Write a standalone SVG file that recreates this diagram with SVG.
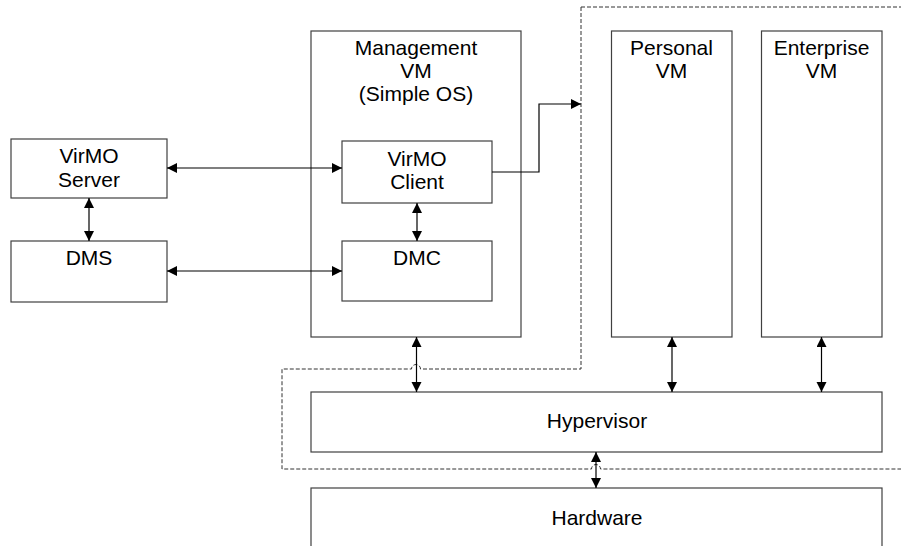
<svg xmlns="http://www.w3.org/2000/svg" width="901" height="546" viewBox="0 0 901 546">
<style>
.box{fill:#fff;stroke:#404040;stroke-width:1.2}
.lbl{font-family:"Liberation Sans",Arial,sans-serif;font-size:21px;fill:#000;text-anchor:middle}
.c{fill:none;stroke:#000;stroke-width:1.2}
.dash{fill:none;stroke:#333;stroke-width:1;stroke-dasharray:4,2}
</style>
<defs>
<marker id="ah" markerUnits="userSpaceOnUse" markerWidth="11" markerHeight="11" refX="10" refY="5" orient="auto-start-reverse">
<path d="M0,0 L10,5 L0,10 z" fill="#000"/>
</marker>
</defs>
<rect width="901" height="546" fill="#fff"/>
<g id="boundary">
<path class="dash" d="M581,7 H901 M581,7 V369 H420.5 A4.5,4.5 0 0 0 411.5,369 H282 V469 H591.5 A4.5,4.5 0 0 1 600.5,469 H901"/>
</g>
<g id="mgmt-vm"><rect class="box" x="311" y="31" width="210" height="306"/>
<text class="lbl" x="416" y="55">Management</text><text class="lbl" x="416" y="78">VM</text><text class="lbl" x="416" y="101">(Simple OS)</text></g>
<g id="personal-vm"><rect class="box" x="611.5" y="31" width="120.5" height="306"/>
<text class="lbl" x="671.5" y="55">Personal</text><text class="lbl" x="671.5" y="78">VM</text></g>
<g id="enterprise-vm"><rect class="box" x="761.5" y="31" width="120.5" height="306"/>
<text class="lbl" x="821.5" y="55">Enterprise</text><text class="lbl" x="821.5" y="78">VM</text></g>
<g id="virmo-client"><rect class="box" x="342" y="141" width="150" height="62"/>
<text class="lbl" x="417" y="166">VirMO</text><text class="lbl" x="417" y="189">Client</text></g>
<g id="dmc"><rect class="box" x="342" y="241" width="150" height="60"/>
<text class="lbl" x="417" y="265">DMC</text></g>
<g id="virmo-server"><rect class="box" x="11" y="139" width="156" height="59"/>
<text class="lbl" x="89" y="163">VirMO</text><text class="lbl" x="89" y="187">Server</text></g>
<g id="dms"><rect class="box" x="11" y="241" width="156" height="61"/>
<text class="lbl" x="89" y="265">DMS</text></g>
<g id="hypervisor"><rect class="box" x="311" y="392" width="571" height="60"/>
<text class="lbl" x="597" y="428">Hypervisor</text></g>
<g id="hardware"><rect class="box" x="311" y="488" width="571" height="80"/>
<text class="lbl" x="597" y="525">Hardware</text></g>
<g id="connectors">
<path class="c" d="M167,168 H342" marker-start="url(#ah)" marker-end="url(#ah)"/>
<path class="c" d="M167,271 H342" marker-start="url(#ah)" marker-end="url(#ah)"/>
<path class="c" d="M89,198 V241" marker-start="url(#ah)" marker-end="url(#ah)"/>
<path class="c" d="M417,203 V241" marker-start="url(#ah)" marker-end="url(#ah)"/>
<path class="c" d="M416.5,337 V392" marker-start="url(#ah)" marker-end="url(#ah)"/>
<path class="c" d="M672,337 V392" marker-start="url(#ah)" marker-end="url(#ah)"/>
<path class="c" d="M821.5,337 V392" marker-start="url(#ah)" marker-end="url(#ah)"/>
<path class="c" d="M596,452 V488" marker-start="url(#ah)" marker-end="url(#ah)"/>
<path class="c" d="M492,172 H539 V104 H581" marker-end="url(#ah)"/>
</g>
</svg>
